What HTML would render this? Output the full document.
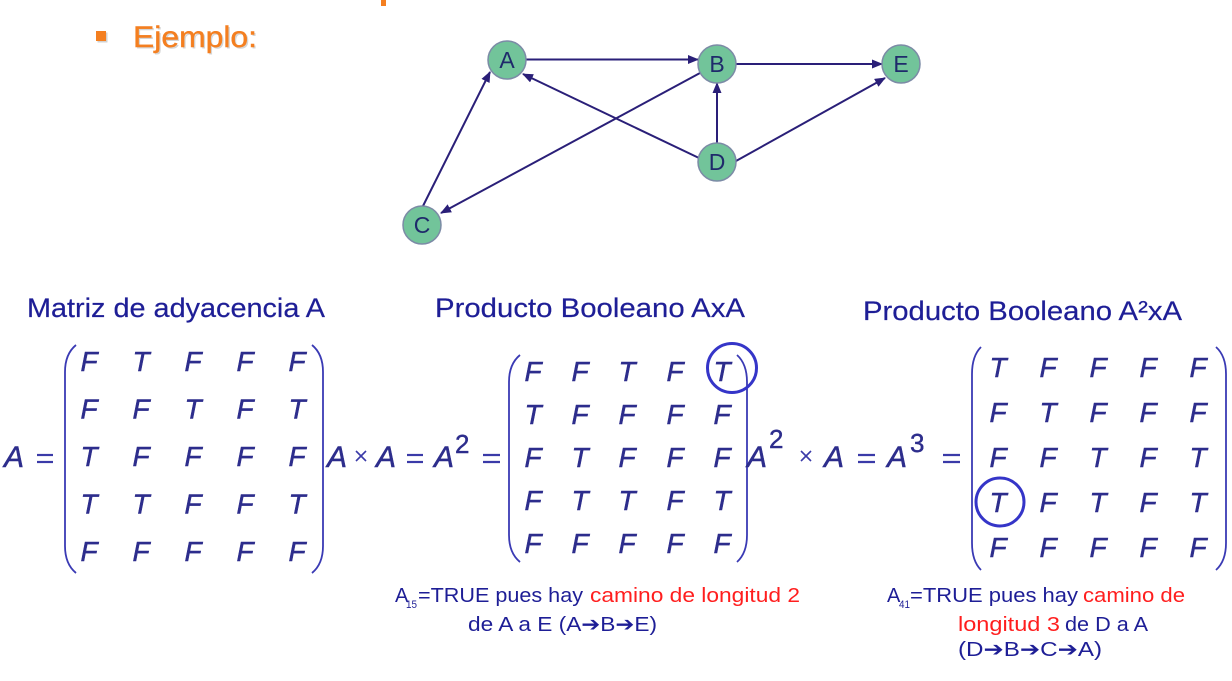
<!DOCTYPE html>
<html><head><meta charset="utf-8"><style>
html,body{margin:0;padding:0;background:#fff;}
svg{display:block;}
text{font-family:"Liberation Sans","DejaVu Sans",sans-serif;}
</style></head><body>
<svg width="1232" height="681" viewBox="0 0 1232 681" xmlns="http://www.w3.org/2000/svg">
<defs>
<marker id="ah" markerUnits="userSpaceOnUse" markerWidth="11" markerHeight="9" refX="10" refY="4.5" orient="auto">
<path d="M0,0 L11,4.5 L0,9 z" fill="#2a1f78"/>
</marker>
</defs>
<rect width="1232" height="681" fill="#fff"/>

<!-- top partial orange char -->
<rect x="381" y="0" width="5" height="6" fill="#f47f20"/>

<!-- Ejemplo -->
<rect x="97.5" y="32.5" width="10" height="10" fill="#999" opacity="0.45"/>
<rect x="96" y="31" width="10" height="10" fill="#f47f20"/>
<text x="134.5" y="48.5" font-size="30" textLength="124" lengthAdjust="spacingAndGlyphs" fill="#999" opacity="0.4">Ejemplo:</text>
<text x="133" y="47" font-size="30" textLength="124" lengthAdjust="spacingAndGlyphs" fill="#f47f20" stroke="#f47f20" stroke-width="0.4">Ejemplo:</text>

<!-- Graph edges -->
<g stroke="#2a1f78" stroke-width="2" fill="none" marker-end="url(#ah)">
<line x1="526" y1="59.5" x2="698" y2="59.5"/>
<line x1="736" y1="64" x2="882" y2="64"/>
<line x1="717" y1="143" x2="717" y2="83"/>
<line x1="736" y1="161" x2="885" y2="78"/>
<line x1="699" y1="158" x2="523" y2="74"/>
<line x1="700" y1="73" x2="441" y2="213"/>
<line x1="423" y1="206" x2="490" y2="72"/>
</g>
<!-- Nodes -->
<g fill="#72c49a" stroke="#7c8ba6" stroke-width="1.5">
<circle cx="507" cy="60" r="19"/>
<circle cx="717" cy="64" r="19"/>
<circle cx="901" cy="64" r="19"/>
<circle cx="717" cy="162" r="19"/>
<circle cx="422" cy="225" r="19"/>
</g>
<g fill="#1f2a6b" font-size="23" text-anchor="middle">
<text x="507" y="68">A</text>
<text x="717" y="72">B</text>
<text x="901" y="72">E</text>
<text x="717" y="170">D</text>
<text x="422" y="233">C</text>
</g>

<!-- Titles -->
<g fill="#1e1e96" font-size="27" stroke="#1e1e96" stroke-width="0.2">
<text x="27" y="317" textLength="298" lengthAdjust="spacingAndGlyphs">Matriz de adyacencia A</text>
<text x="435" y="317" textLength="310" lengthAdjust="spacingAndGlyphs">Producto Booleano AxA</text>
<text x="863" y="320" textLength="319" lengthAdjust="spacingAndGlyphs">Producto Booleano A²xA</text>
</g>

<!-- Parentheses -->
<g stroke="#3a3ab4" stroke-width="1.8" fill="none">
<path d="M76,345 Q65,354 65,372 L65,546 Q65,564 76,573"/>
<path d="M312,345 Q323,354 323,372 L323,546 Q323,564 312,573"/>
<path d="M520,355 Q509,364 509,382 L509,535 Q509,553 520,562"/>
<path d="M737,355 Q747,364 747,382 L747,535 Q747,553 737,562"/>
<path d="M981,347 Q972,356 972,374 L972,543 Q972,561 981,570"/>
<path d="M1216,347 Q1226,356 1226,374 L1226,543 Q1226,561 1216,570"/>
</g>

<!-- Math expressions -->
<g fill="#2d2d8c" font-size="30" font-style="italic" stroke="#2d2d8c" stroke-width="0.5">
<text x="4" y="467">A</text>
<text x="327" y="467">A</text>
<text x="376" y="467">A</text>
<text x="434" y="467">A</text>
<text x="747" y="467">A</text>
<text x="824" y="467">A</text>
<text x="887" y="467">A</text>
</g>
<g fill="#2d2d8c" font-size="26" stroke="#2d2d8c" stroke-width="0.4">
<text x="455" y="453">2</text>
<text x="769" y="448">2</text>
<text x="910" y="452">3</text>
</g>
<g stroke="#3a3aa8" stroke-width="2.2">
<line x1="37" y1="455" x2="53" y2="455"/><line x1="37" y1="462" x2="53" y2="462"/>
<line x1="407" y1="455" x2="423" y2="455"/><line x1="407" y1="462" x2="423" y2="462"/>
<line x1="483" y1="455" x2="500" y2="455"/><line x1="483" y1="462" x2="500" y2="462"/>
<line x1="858" y1="455" x2="875" y2="455"/><line x1="858" y1="462" x2="875" y2="462"/>
<line x1="943" y1="455" x2="960" y2="455"/><line x1="943" y1="462" x2="960" y2="462"/>
</g>
<g stroke="#3a3aa8" stroke-width="1.6">
<line x1="356" y1="451" x2="366" y2="461"/><line x1="366" y1="451" x2="356" y2="461"/>
<line x1="801" y1="451" x2="811" y2="461"/><line x1="811" y1="451" x2="801" y2="461"/>
</g>

<!-- Matrix 1 -->
<g fill="#2d2d8c" font-size="28" font-style="italic" text-anchor="middle" stroke="#2d2d8c" stroke-width="0.5">
<text x="89" y="371">F</text><text x="141" y="371">T</text><text x="193" y="371">F</text><text x="245" y="371">F</text><text x="297" y="371">F</text>
<text x="89" y="418.5">F</text><text x="141" y="418.5">F</text><text x="193" y="418.5">T</text><text x="245" y="418.5">F</text><text x="297" y="418.5">T</text>
<text x="89" y="466">T</text><text x="141" y="466">F</text><text x="193" y="466">F</text><text x="245" y="466">F</text><text x="297" y="466">F</text>
<text x="89" y="513.5">T</text><text x="141" y="513.5">T</text><text x="193" y="513.5">F</text><text x="245" y="513.5">F</text><text x="297" y="513.5">T</text>
<text x="89" y="561">F</text><text x="141" y="561">F</text><text x="193" y="561">F</text><text x="245" y="561">F</text><text x="297" y="561">F</text>
</g>

<!-- Matrix 2 -->
<g fill="#2d2d8c" font-size="28" font-style="italic" text-anchor="middle" stroke="#2d2d8c" stroke-width="0.5">
<text x="533" y="381">F</text><text x="580" y="381">F</text><text x="627" y="381">T</text><text x="675" y="381">F</text><text x="722" y="381">T</text>
<text x="533" y="424">T</text><text x="580" y="424">F</text><text x="627" y="424">F</text><text x="675" y="424">F</text><text x="722" y="424">F</text>
<text x="533" y="467">F</text><text x="580" y="467">T</text><text x="627" y="467">F</text><text x="675" y="467">F</text><text x="722" y="467">F</text>
<text x="533" y="510">F</text><text x="580" y="510">T</text><text x="627" y="510">T</text><text x="675" y="510">F</text><text x="722" y="510">T</text>
<text x="533" y="553">F</text><text x="580" y="553">F</text><text x="627" y="553">F</text><text x="675" y="553">F</text><text x="722" y="553">F</text>
</g>

<!-- Matrix 3 -->
<g fill="#2d2d8c" font-size="28" font-style="italic" text-anchor="middle" stroke="#2d2d8c" stroke-width="0.5">
<text x="998" y="377">T</text><text x="1048" y="377">F</text><text x="1098" y="377">F</text><text x="1148" y="377">F</text><text x="1198" y="377">F</text>
<text x="998" y="422">F</text><text x="1048" y="422">T</text><text x="1098" y="422">F</text><text x="1148" y="422">F</text><text x="1198" y="422">F</text>
<text x="998" y="467">F</text><text x="1048" y="467">F</text><text x="1098" y="467">T</text><text x="1148" y="467">F</text><text x="1198" y="467">T</text>
<text x="998" y="512">T</text><text x="1048" y="512">F</text><text x="1098" y="512">T</text><text x="1148" y="512">F</text><text x="1198" y="512">T</text>
<text x="998" y="557">F</text><text x="1048" y="557">F</text><text x="1098" y="557">F</text><text x="1148" y="557">F</text><text x="1198" y="557">F</text>
</g>

<!-- Highlight circles -->
<g stroke="#3535c8" stroke-width="3" fill="none">
<circle cx="732" cy="368" r="24.5"/>
<circle cx="1000" cy="502" r="24"/>
</g>

<!-- Annotation 1 -->
<g font-size="20">
<text x="395" y="602" fill="#1e1e96">A</text>
<text x="406" y="608" font-size="11" fill="#1e1e96" textLength="11" lengthAdjust="spacingAndGlyphs">15</text>
<text x="418" y="602" fill="#1e1e96" textLength="165" lengthAdjust="spacingAndGlyphs">=TRUE pues hay</text>
<text x="590" y="602" fill="#ff1e1e" textLength="210" lengthAdjust="spacingAndGlyphs">camino de longitud 2</text>
<text x="468" y="631" fill="#1e1e96" textLength="189" lengthAdjust="spacingAndGlyphs">de A a E (A➔B➔E)</text>
</g>

<!-- Annotation 2 -->
<g font-size="20">
<text x="887" y="602" fill="#1e1e96">A</text>
<text x="899" y="608" font-size="11" fill="#1e1e96" textLength="11" lengthAdjust="spacingAndGlyphs">41</text>
<text x="910" y="602" fill="#1e1e96" textLength="168" lengthAdjust="spacingAndGlyphs">=TRUE pues hay</text>
<text x="1083" y="602" fill="#ff1e1e" textLength="102" lengthAdjust="spacingAndGlyphs">camino de</text>
<text x="958" y="631" fill="#ff1e1e" textLength="102" lengthAdjust="spacingAndGlyphs">longitud 3</text>
<text x="1065" y="631" fill="#1e1e96" textLength="83" lengthAdjust="spacingAndGlyphs">de D a A</text>
<text x="958" y="656" fill="#1e1e96" textLength="144" lengthAdjust="spacingAndGlyphs">(D➔B➔C➔A)</text>
</g>
</svg>
</body></html>
